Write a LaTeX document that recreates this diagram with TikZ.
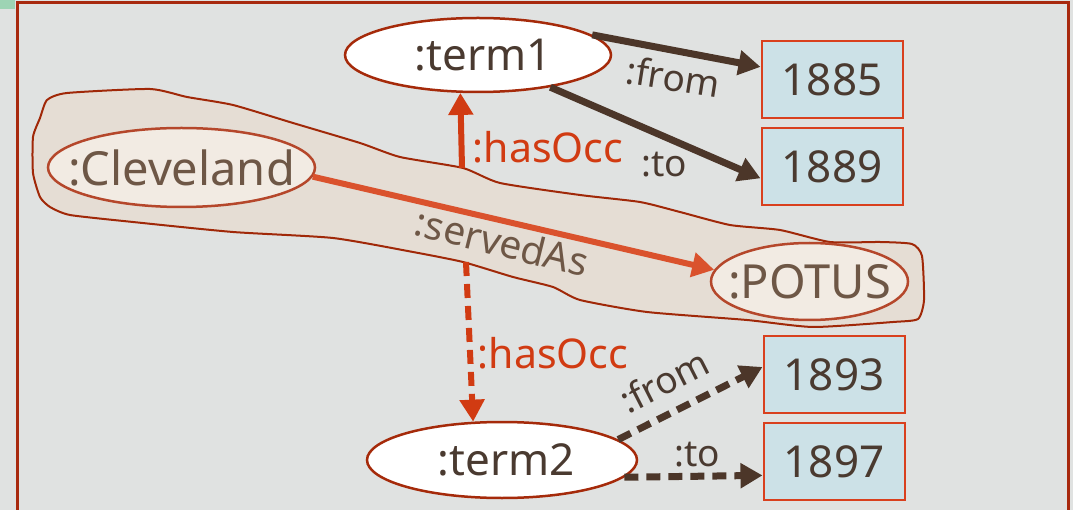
\documentclass[tikz,border=0pt]{standalone}
\usepackage{fontspec}
\setmainfont{Noto Sans}
\usetikzlibrary{shapes.geometric,arrows.meta}

\definecolor{bgcol}{HTML}{E0E2E1}
\definecolor{framecol}{HTML}{A8290E}
\definecolor{termline}{HTML}{A52A0A}
\definecolor{resline}{HTML}{B5472B}
\definecolor{resfill}{HTML}{F2EBE3}
\definecolor{blobfill}{HTML}{E5DDD4}
\definecolor{blobline}{HTML}{A02808}
\definecolor{boxfill}{HTML}{CCE1E7}
\definecolor{boxline}{HTML}{D9401E}
\definecolor{darktext}{HTML}{4A3A30}
\definecolor{restext}{HTML}{6E5746}
\definecolor{brownarrow}{HTML}{4C3629}
\definecolor{servedcol}{HTML}{DA522D}
\definecolor{occcol}{HTML}{D13B12}
\definecolor{greenpatch}{HTML}{9DD4B4}

% ellipse text is boxed with zero width so that the outline size is set by
% minimum width/height alone
\newcommand{\ctext}[1]{\makebox[0pt]{#1}}

\tikzset{
  termnode/.style={ellipse, draw=termline, line width=2.5pt, fill=white,
    inner sep=0pt, text=darktext, font=\fontsize{44}{48}\selectfont},
  resnode/.style={ellipse, draw=resline, line width=2.5pt, fill=resfill,
    inner sep=0pt, text=restext, font=\fontsize{47}{52}\selectfont},
  yearbox/.style={rectangle, draw=boxline, line width=2pt, fill=boxfill,
    minimum width=141pt, minimum height=77pt, inner sep=0pt,
    text=darktext, font=\fontsize{44}{48}\selectfont},
  propline/.style={line width=7pt, draw=brownarrow,
    -{Triangle[length=22pt,width=24pt]}},
  servedline/.style={line width=6pt, draw=servedcol,
    -{Triangle[length=22pt,width=24pt]}},
  occline/.style={line width=6pt, draw=occcol,
    -{Triangle[length=22pt,width=24pt]}},
  dashedprop/.style={dash pattern=on 14pt off 8pt},
  proplabel/.style={text=darktext, font=\fontsize{37}{40}\selectfont, inner sep=0pt},
  occlabel/.style={text=occcol, font=\fontsize{41}{44}\selectfont, inner sep=0pt},
}

\begin{document}
\begin{tikzpicture}[x=1pt,y=-1pt]
  \useasboundingbox (0,0) rectangle (1073,510);
  \fill[bgcol] (0,0) rectangle (1073,510);
  \fill[greenpatch] (0,0) rectangle (15,9);

  % outer frame
  \draw[framecol, line width=3pt] (17,515) -- (17,3) -- (1068,3) -- (1068,515);

  % highlighted region around the served-as triple
  \draw[blobline, line width=2pt, fill=blobfill, line join=round]
    plot[smooth cycle, tension=0.35] coordinates {
      (47,100) (67,93) (150,89) (187,97) (233,105) (293,123) (360,143)
      (400,157) (463,168) (500,183) (580,195) (640,202) (680,212)
      (730,225) (780,230) (830,242) (880,242) (912,244) (922,256)
      (924,300) (918,319) (893,322) (813,327) (747,320) (647,312)
      (580,300) (553,287) (513,277) (463,262) (413,252) (333,238)
      (233,232) (133,222) (70,215) (50,207) (40,197) (33,173)
      (33,137) (40,118)};

  % nodes
  \node[termnode, minimum width=266pt, minimum height=74pt] (t1) at (478,55) {\ctext{\kern10pt:term1}};
  \node[termnode, minimum width=270pt, minimum height=76pt] (t2) at (502,460) {\ctext{\kern8pt:term2}};
  \node[resnode, minimum width=267pt, minimum height=79pt] (cl) at (181.5,167.5) {\ctext{:Cleveland}};
  \node[resnode, minimum width=197pt, minimum height=77pt] (po) at (809.5,281.5) {\ctext{:POTUS}};

  \node[yearbox] (y1885) at (832,79.5) {1885};
  \node[yearbox] (y1889) at (832,167) {1889};
  \node[yearbox] (y1893) at (834,374.5) {1893};
  \node[yearbox] (y1897) at (834,461.5) {1897};

  \coordinate (occA) at (462,168);
  \coordinate (occB) at (466,262);

  % first term
  \draw[propline] (t1.10) -- (y1885.170);
  \draw[propline] (t1.-24) -- (y1889.189);
  \node[proplabel, rotate=-9] at (673,77) {:from};
  \node[proplabel] at (664,165) {:to};

  % served as
  \draw[servedline] (cl.-4) -- (po.173);
  \node[proplabel, text=restext, font=\fontsize{39}{42}\selectfont, rotate=-14] at (502,242) {:servedAs};

  % has occupation
  \draw[occline] (occA) -- (t1.245);
  \node[occlabel] at (548,147) {:hasOcc};
  \draw[occline, dashedprop] (occB) -- (t2.127);
  \node[occlabel] at (553,353) {:hasOcc};

  % second term
  \draw[propline, dashedprop] (t2.10) -- (y1893.174);
  \draw[propline, dashedprop] (t2.-8) -- (y1897.191);
  \node[proplabel, rotate=27] at (664,381) {:from};
  \node[proplabel] at (697,455) {:to};
\end{tikzpicture}
\end{document}
